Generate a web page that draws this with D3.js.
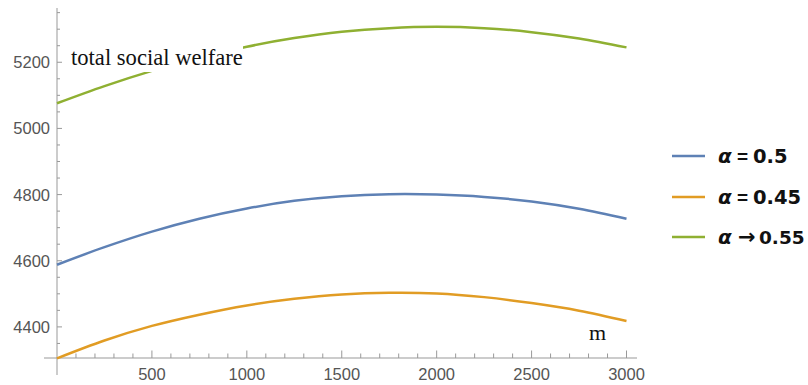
<!DOCTYPE html>
<html><head><meta charset="utf-8">
<script src="https://cdn.jsdelivr.net/npm/d3@7"></script>
<style>html,body{margin:0;padding:0;background:#fff;}svg{display:block;}</style>
</head><body>
<svg id="c" width="808" height="385"></svg>
<script>
const mValues = [0,250,500,750,1000,1250,1500,1750,2000,2250,2500,2750,3000];
const welfareA050 = [4588,4641,4688,4727,4758,4781,4795,4801,4800,4793,4779,4757,4727];
const welfareA045 = [4305,4359,4403,4437,4465,4485,4498,4503,4501,4490,4472,4449,4418];
const welfareA055 = [5076,5128,5174,5214,5247,5273,5292,5303,5307,5303,5291,5272,5245];
const seriesSymbols = ["\u03B1","\u03B1","\u03B1"];
const seriesRelations = ["=","=","\u2192"];
const seriesValues = ["0.5","0.45","0.55"];
const seriesColors = ["#5E81B5","#E19C24","#8FB032"];
const xMajorTicks = [500,1000,1500,2000,2500,3000];
const yMajorTicks = [4400,4600,4800,5000,5200];
const yLabel = "total social welfare";
const xLabel = "m";

const svg = d3.select("#c");
const x = d3.scaleLinear().domain([0,3000]).range([57,626.5]);
const y = d3.scaleLinear().domain([4306,5364]).range([358,8]);
const axisColor = "#999";

const g = svg.append("g");
g.append("line").attr("x1",44).attr("x2",637).attr("y1",y(4306)).attr("y2",y(4306)).attr("stroke",axisColor).attr("stroke-width",1);
g.append("line").attr("x1",x(0)).attr("x2",x(0)).attr("y1",8).attr("y2",375).attr("stroke",axisColor).attr("stroke-width",1);

const xMinor = d3.range(100,3001,100);
g.selectAll(".xt").data(xMinor).enter().append("line")
  .attr("x1",d=>x(d)).attr("x2",d=>x(d))
  .attr("y1",y(4306)).attr("y2",d=> y(4306) - (xMajorTicks.includes(d)?7.5:4.5))
  .attr("stroke",axisColor);
g.selectAll(".xl").data(xMajorTicks).enter().append("text")
  .attr("x",d=>x(d)).attr("y",380).attr("text-anchor","middle")
  .attr("font-family","Liberation Sans, Arial, sans-serif").attr("font-size",16.5).attr("fill","#555")
  .text(d=>d);

const yMinor = d3.range(4350,5351,50);
g.selectAll(".yt").data(yMinor).enter().append("line")
  .attr("x1",x(0)).attr("x2",d=> x(0) + (yMajorTicks.includes(d)?5:3))
  .attr("y1",d=>y(d)).attr("y2",d=>y(d))
  .attr("stroke",axisColor);
g.selectAll(".yl").data(yMajorTicks).enter().append("text")
  .attr("x",50).attr("y",d=>y(d)+6).attr("text-anchor","end")
  .attr("font-family","Liberation Sans, Arial, sans-serif").attr("font-size",16.5).attr("fill","#555")
  .text(d=>d);

const allSeries = [welfareA050, welfareA045, welfareA055];
const line = d3.line().x((d,i)=>x(mValues[i])).y(d=>y(d)).curve(d3.curveCatmullRom);
allSeries.forEach((s,i)=>{
  g.append("path").attr("d",line(s)).attr("fill","none")
   .attr("stroke",seriesColors[i]).attr("stroke-width",2.5);
});

g.append("rect").attr("x",68).attr("y",44).attr("width",175).attr("height",28).attr("fill","#fff");
g.append("text").attr("x",71).attr("y",65)
  .attr("font-family","Liberation Serif, Times New Roman, serif").attr("font-size",22.6).attr("fill","#111")
  .text(yLabel);
g.append("text").attr("x",589).attr("y",340)
  .attr("font-family","Liberation Serif, Times New Roman, serif").attr("font-size",22).attr("fill","#111")
  .text(xLabel);

const legY = [156,197,237];
seriesValues.forEach((v,i)=>{
  g.append("line").attr("x1",672).attr("x2",705).attr("y1",legY[i]).attr("y2",legY[i])
    .attr("stroke",seriesColors[i]).attr("stroke-width",2.5);
  const base = legY[i]+7;
  g.append("text").attr("x",718).attr("y",base)
    .attr("font-family","DejaVu Sans, sans-serif").attr("font-size",20).attr("font-weight","bold").attr("font-style","italic").attr("fill","#111")
    .text(seriesSymbols[i]);
  const isArrow = seriesRelations[i] !== "=";
  g.append("text").attr("x",isArrow?738:737).attr("y",base)
    .attr("font-family", isArrow ? "DejaVu Sans, sans-serif" : "Liberation Sans, Arial, sans-serif")
    .attr("font-size", isArrow ? 21 : 19).attr("font-weight","bold").attr("fill","#111")
    .text(seriesRelations[i]);
  g.append("text").attr("x",isArrow?759:753).attr("y",base)
    .attr("font-family","DejaVu Sans, sans-serif").attr("font-size",isArrow?18.5:19.5).attr("font-weight","bold").attr("fill","#111")
    .text(v);
});
</script>
</body></html>
